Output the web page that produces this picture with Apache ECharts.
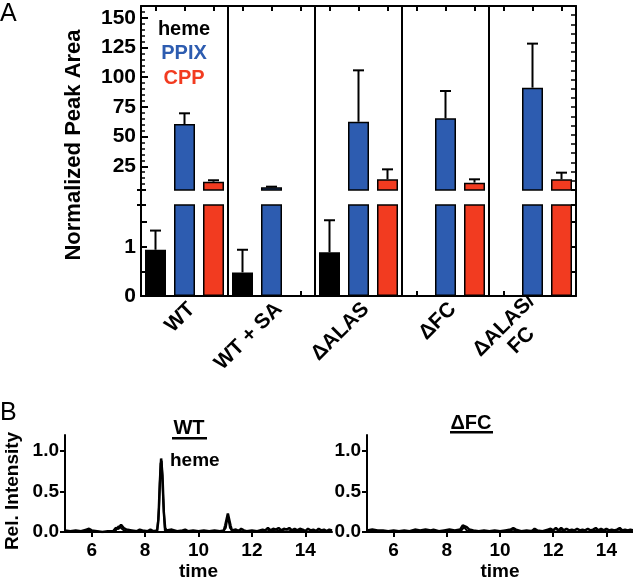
<!DOCTYPE html>
<html><head><meta charset="utf-8">
<script src="https://cdn.jsdelivr.net/npm/echarts@6/dist/echarts.min.js"></script>
<style>html,body{margin:0;padding:0;background:#fff}#c{width:633px;height:582px}</style>
</head><body><div id="c"></div>
<script>
// ---- Panel A data ----
const groups = ['WT', 'WT + SA', '\u0394ALAS', '\u0394FC', '\u0394ALAS/\nFC    '];
const seriesNames = ['heme', 'PPIX', 'CPP'];
const heme    = [0.94, 0.48, 0.89, null, null];
const hemeErr = [0.39, 0.46, 0.65, null, null];
const ppix    = [60.5, 7.3, 62.5, 65.4, 91.2];
const ppixErr = [9.1, 0.5, 43.3, 23.0, 37.1];
const cpp     = [12.0, null, 14.0, 11.2, 14.0];
const cppErr  = [1.2, null, 8.4, 2.8, 5.6];
const upperTicks = [25, 50, 75, 100, 125, 150];
const lowerTicks = [0, 1];
const lowerMinorTicks = [0, 0.5, 1, 1.5];
// ---- Panel B data ----
const timeTicks = [6, 8, 10, 12, 14];
const intensityTicks = [0, 0.5, 1];
const wtTraceA = [[5.0,0.02],[5.2,0.01],[5.4,0.02],[5.6,0.01],[5.8,0.03],[5.9,0.04],[6.0,0.02],[6.2,0.01],[6.4,0.0],[6.6,0.01],[6.8,0.01],[6.9,0.05],[7.0,0.04],[7.1,0.09],[7.2,0.05],[7.3,0.03],[7.5,0.02],[7.7,0.01],[7.8,0.03],[7.9,0.02],[8.1,0.01],[8.2,0.03],[8.3,0.01],[8.45,0.02],[8.5,0.15],[8.55,0.6],[8.6,0.91],[8.65,0.7],[8.7,0.25],[8.75,0.05],[8.8,0.02],[9.0,0.03],[9.2,0.01],[9.4,0.02],[9.5,0.03],[9.6,0.01],[9.8,0.02],[10.0,0.01],[10.2,0.02],[10.4,0.01],[10.6,0.02],[10.8,0.01],[10.95,0.02],[11.0,0.08],[11.1,0.23],[11.2,0.08],[11.25,0.02],[11.4,0.03],[11.5,0.01],[11.6,0.04],[11.7,0.02],[11.8,0.01],[12.0,0.02],[12.2,0.01],[12.4,0.03],[12.5,0.02],[12.6,0.05],[12.7,0.02],[12.8,0.04],[12.9,0.03],[13.0,0.05],[13.1,0.02],[13.2,0.04],[13.3,0.03],[13.4,0.05],[13.5,0.02],[13.6,0.04],[13.7,0.02],[13.8,0.04],[13.9,0.03],[14.0,0.01],[14.1,0.04],[14.2,0.02],[14.3,0.03],[14.4,0.01],[14.5,0.04],[14.6,0.02],[14.7,0.03],[14.8,0.01],[14.9,0.03],[15.0,0.02]];
const wtTraceB = [[5.0,0.0],[5.3,0.01],[5.6,0.0],[5.8,0.02],[6.0,0.01],[6.3,0.0],[6.6,0.0],[6.9,0.02],[7.0,0.07],[7.1,0.05],[7.2,0.02],[7.4,0.0],[7.6,0.01],[7.8,0.01],[8.0,0.0],[8.2,0.01],[8.45,0.0],[8.52,0.3],[8.58,0.85],[8.62,0.88],[8.68,0.4],[8.74,0.02],[8.9,0.0],[9.1,0.01],[9.3,0.0],[9.5,0.01],[9.7,0.0],[9.9,0.01],[10.1,0.0],[10.3,0.01],[10.5,0.0],[10.7,0.01],[10.9,0.0],[11.02,0.05],[11.1,0.2],[11.18,0.05],[11.3,0.0],[11.5,0.02],[11.7,0.0],[11.9,0.01],[12.1,0.0],[12.3,0.01],[12.5,0.0],[12.7,0.02],[12.9,0.01],[13.1,0.02],[13.3,0.0],[13.5,0.02],[13.7,0.01],[13.9,0.02],[14.1,0.0],[14.3,0.02],[14.5,0.01],[14.7,0.0],[14.9,0.02],[15.0,0.01]];
const fcTraceA = [[5.0,0.02],[5.2,0.03],[5.4,0.02],[5.6,0.02],[5.8,0.01],[6.0,0.02],[6.2,0.01],[6.4,0.02],[6.6,0.01],[6.8,0.03],[7.0,0.02],[7.2,0.03],[7.4,0.02],[7.5,0.03],[7.7,0.01],[7.9,0.02],[8.1,0.03],[8.3,0.02],[8.5,0.03],[8.6,0.08],[8.67,0.1],[8.75,0.06],[8.85,0.03],[9.0,0.02],[9.2,0.01],[9.4,0.02],[9.6,0.01],[9.8,0.02],[10.0,0.01],[10.2,0.02],[10.4,0.03],[10.5,0.05],[10.6,0.03],[10.8,0.01],[11.0,0.02],[11.2,0.01],[11.3,0.04],[11.4,0.02],[11.6,0.01],[11.8,0.03],[11.9,0.04],[12.0,0.02],[12.1,0.05],[12.2,0.02],[12.3,0.05],[12.4,0.02],[12.5,0.04],[12.6,0.02],[12.7,0.03],[12.8,0.02],[12.9,0.04],[13.0,0.02],[13.1,0.03],[13.2,0.02],[13.3,0.04],[13.4,0.02],[13.5,0.03],[13.6,0.05],[13.7,0.02],[13.8,0.04],[13.9,0.02],[14.0,0.04],[14.1,0.02],[14.2,0.03],[14.3,0.02],[14.4,0.03],[14.5,0.05],[14.6,0.02],[14.7,0.03],[14.8,0.02],[14.9,0.03],[15.0,0.02]];
const fcTraceB = [[5.0,0.0],[5.3,0.01],[5.6,0.0],[5.9,0.01],[6.2,0.0],[6.5,0.01],[6.8,0.0],[7.1,0.01],[7.4,0.0],[7.7,0.01],[8.0,0.0],[8.3,0.01],[8.55,0.02],[8.65,0.06],[8.75,0.02],[9.0,0.0],[9.3,0.01],[9.6,0.0],[9.9,0.01],[10.2,0.0],[10.5,0.03],[10.7,0.0],[11.0,0.01],[11.3,0.02],[11.6,0.0],[11.9,0.02],[12.1,0.0],[12.3,0.03],[12.5,0.0],[12.7,0.02],[12.9,0.0],[13.1,0.02],[13.3,0.0],[13.5,0.02],[13.7,0.01],[13.9,0.02],[14.1,0.0],[14.3,0.02],[14.5,0.03],[14.7,0.0],[14.9,0.01],[15.0,0.0]];

const COLORS = ['#000000', '#2d5cb0', '#f23b20'];
const FONT = '"Liberation Sans", Arial, sans-serif';

// 15 categories: 3 bars per group
const cats = [];
groups.forEach((g, gi) => seriesNames.forEach((s, si) => cats.push(gi * 3 + si)));
function place(vals, si) {
  const out = cats.map(() => '-');
  vals.forEach((v, gi) => { if (v !== null) out[gi * 3 + si] = v; });
  return out;
}
function errData(vals, errs, si) {
  const out = [];
  vals.forEach((v, gi) => { if (v !== null && errs[gi] !== null) out.push([gi * 3 + si, v, errs[gi]]); });
  return out;
}
function errRender(params, api) {
  const x = api.value(0), y = api.value(1), e = api.value(2);
  const p0 = api.coord([x, y]), p1 = api.coord([x, y + e]);
  return { type: 'group', children: [
    { type: 'line', shape: { x1: p0[0], y1: p0[1], x2: p1[0], y2: p1[1] }, style: { stroke: '#000', lineWidth: 2 } },
    { type: 'line', shape: { x1: p1[0] - 5.5, y1: p1[1], x2: p1[0] + 5.5, y2: p1[1] }, style: { stroke: '#000', lineWidth: 2 } }
  ]};
}
// frame of a broken-axis segment: side lines plus small caps at the break end
function frameRender(breakAtTop) {
  return function (params, api) {
    const cs = params.coordSys;
    const L = cs.x, R = cs.x + cs.width, T = cs.y, B = cs.y + cs.height;
    const yb = breakAtTop ? T : B;
    const st = { stroke: '#000', lineWidth: 2 };
    return { type: 'group', children: [
      { type: 'line', shape: { x1: L, y1: T, x2: L, y2: B }, style: st },
      { type: 'line', shape: { x1: R, y1: T, x2: R, y2: B }, style: st },
      { type: 'line', shape: { x1: L - 4, y1: yb, x2: L + 5, y2: yb }, style: st },
      { type: 'line', shape: { x1: R - 5, y1: yb, x2: R + 1, y2: yb }, style: st }
    ]};
  };
}
// group label anchors (slightly right of group centre, as in the figure)
const groupLabelPos = groups.map((g, gi) => gi * 3 + 1.25);
// right-frame tick positions of the upper segment
const rightTicks = [];
for (let k = 0; k <= 20; k++) rightTicks.push(5 + 7.75 * k);

const barStyle = (i) => ({ color: COLORS[i], borderColor: '#000', borderWidth: 1.5 });
const axLine = () => ({ show: true, lineStyle: { color: '#000', width: 2 } });
const tick = (vals, len, w) => ({ show: true, customValues: vals, inside: true, length: len, lineStyle: { color: '#000', width: w } });
const labelFont = () => ({ color: '#000', fontFamily: FONT, fontWeight: 'bold', fontSize: 21 });
const bLabelFont = () => ({ color: '#000', fontFamily: FONT, fontWeight: 'bold', fontSize: 19 });

const chart = echarts.init(document.getElementById('c'), null, { renderer: 'canvas' });
chart.setOption({
  animation: false,
  backgroundColor: '#fff',
  grid: [
    { left: 141, right: 57, top: 6, height: 184 },   // 0 A upper
    { left: 141, right: 57, top: 205, height: 91 },  // 1 A lower
    { left: 141, right: 57, top: 6, height: 290 },   // 2 A separators
    { left: 65, width: 267, top: 435, height: 100 }, // 3 B WT
    { left: 367, width: 266, top: 435, height: 100 },// 4 B dFC
    { left: 141, right: 57, top: 205, height: 91 }   // 5 A group labels
  ],
  xAxis: [
    { gridIndex: 0, type: 'category', data: cats, position: 'top',
      axisLine: axLine(), axisTick: { show: true, inside: true, length: 5, alignWithLabel: true, lineStyle: { color: '#000', width: 2 } },
      axisLabel: { show: false }, splitLine: { show: false } },
    { gridIndex: 1, type: 'category', data: cats, position: 'bottom',
      axisLine: axLine(), axisTick: { show: true, inside: true, length: 5, alignWithLabel: true, lineStyle: { color: '#000', width: 2 } },
      axisLabel: { show: false } },
    { gridIndex: 2, type: 'category', data: groups, boundaryGap: true,
      axisLine: { show: false }, axisTick: { show: false }, axisLabel: { show: false },
      splitLine: { show: true, lineStyle: { color: '#000', width: 2 } } },
    { gridIndex: 3, type: 'value', min: 5, max: 15, name: 'time', nameLocation: 'middle', nameGap: 30,
      nameTextStyle: bLabelFont(), axisLine: axLine(),
      axisTick: { show: true, customValues: timeTicks, length: 5, lineStyle: { color: '#000', width: 2 } },
      axisLabel: Object.assign({ customValues: timeTicks, margin: 9 }, bLabelFont()), splitLine: { show: false } },
    { gridIndex: 4, type: 'value', min: 5, max: 15, name: 'time', nameLocation: 'middle', nameGap: 30,
      nameTextStyle: bLabelFont(), axisLine: axLine(),
      axisTick: { show: true, customValues: timeTicks, length: 5, lineStyle: { color: '#000', width: 2 } },
      axisLabel: Object.assign({ customValues: timeTicks, margin: 9 }, bLabelFont()), splitLine: { show: false } },
    { gridIndex: 5, type: 'value', min: -0.5, max: 14.5, position: 'bottom',
      axisLine: { show: false }, axisTick: { show: false }, splitLine: { show: false },
      axisLabel: Object.assign({ customValues: groupLabelPos, rotate: 45, margin: 10, lineHeight: 23,
        formatter: (v) => groups[Math.round((v - 1.25) / 3)] }, labelFont()) }
  ],
  yAxis: [
    { gridIndex: 0, type: 'value', min: 5, max: 160, position: 'left',
      axisLine: axLine(), axisTick: tick(upperTicks, 7, 2),
      axisLabel: Object.assign({ customValues: upperTicks, margin: 5 }, labelFont()), splitLine: { show: false } },
    { gridIndex: 0, type: 'value', min: 5, max: 160, interval: 5, position: 'left',
      axisLine: { show: false }, axisTick: { show: true, inside: true, length: 4, lineStyle: { width: 1.5, color: '#000' } },
      axisLabel: { show: false }, splitLine: { show: false } },
    { gridIndex: 0, type: 'value', min: 5, max: 160, position: 'right',
      axisLine: axLine(), axisTick: tick(rightTicks, 5, 1.5),
      axisLabel: { show: false }, splitLine: { show: false } },
    { gridIndex: 1, type: 'value', min: 0, max: 1.85, position: 'left',
      axisLine: axLine(), axisTick: tick(lowerMinorTicks, 6, 2),
      axisLabel: Object.assign({ customValues: lowerTicks, margin: 5 }, labelFont()), splitLine: { show: false } },
    { gridIndex: 1, type: 'value', min: 0, max: 1.85, position: 'right',
      axisLine: axLine(), axisTick: tick([0.5, 1, 1.5], 6, 2),
      axisLabel: { show: false }, splitLine: { show: false } },
    { gridIndex: 2, type: 'value', show: false, min: 0, max: 1 },
    { gridIndex: 3, type: 'value', min: 0, max: 1.2, axisLine: axLine(),
      axisTick: { show: true, customValues: intensityTicks, length: 5, lineStyle: { color: '#000', width: 2 } },
      axisLabel: Object.assign({ customValues: intensityTicks, margin: 6, formatter: (v) => v.toFixed(1) }, bLabelFont()),
      splitLine: { show: false } },
    { gridIndex: 4, type: 'value', min: 0, max: 1.2, axisLine: axLine(),
      axisTick: { show: true, customValues: intensityTicks, length: 5, lineStyle: { color: '#000', width: 2 } },
      axisLabel: Object.assign({ customValues: intensityTicks, margin: 6, formatter: (v) => v.toFixed(1) }, bLabelFont()),
      splitLine: { show: false } },
    { gridIndex: 5, type: 'value', show: false, min: 0, max: 1 }
  ],
  series: [
    // lower segment bars
    { name: 'heme', type: 'bar', xAxisIndex: 1, yAxisIndex: 3, data: place(heme, 0), barWidth: 21, barGap: '-100%', itemStyle: barStyle(0), clip: true },
    { name: 'PPIX', type: 'bar', xAxisIndex: 1, yAxisIndex: 3, data: place(ppix, 1), barWidth: 21, barGap: '-100%', itemStyle: barStyle(1), clip: true },
    { name: 'CPP', type: 'bar', xAxisIndex: 1, yAxisIndex: 3, data: place(cpp, 2), barWidth: 21, barGap: '-100%', itemStyle: barStyle(2), clip: true },
    { type: 'custom', xAxisIndex: 1, yAxisIndex: 3, data: errData(heme, hemeErr, 0), renderItem: errRender, z: 1 },
    { type: 'custom', xAxisIndex: 1, yAxisIndex: 3, data: [[0, 0]], renderItem: frameRender(true), z: 3, silent: true },
    // upper segment bars
    { name: 'PPIX', type: 'bar', xAxisIndex: 0, yAxisIndex: 0, data: place(ppix, 1), barWidth: 21, barGap: '-100%', itemStyle: barStyle(1), clip: true },
    { name: 'CPP', type: 'bar', xAxisIndex: 0, yAxisIndex: 0, data: place(cpp, 2), barWidth: 21, barGap: '-100%', itemStyle: barStyle(2), clip: true },
    { type: 'custom', xAxisIndex: 0, yAxisIndex: 0, data: errData(ppix, ppixErr, 1), renderItem: errRender, z: 1 },
    { type: 'custom', xAxisIndex: 0, yAxisIndex: 0, data: errData(cpp, cppErr, 2), renderItem: errRender, z: 1 },
    { type: 'custom', xAxisIndex: 0, yAxisIndex: 0, data: [[0, 5]], renderItem: frameRender(false), z: 3, silent: true },
    // chromatograms
    { type: 'line', xAxisIndex: 3, yAxisIndex: 6, data: wtTraceA, showSymbol: false, lineStyle: { color: '#000', width: 2.5 } },
    { type: 'line', xAxisIndex: 3, yAxisIndex: 6, data: wtTraceB, showSymbol: false, lineStyle: { color: '#000', width: 2 } },
    { type: 'line', xAxisIndex: 4, yAxisIndex: 7, data: fcTraceA, showSymbol: false, lineStyle: { color: '#000', width: 2.5 } },
    { type: 'line', xAxisIndex: 4, yAxisIndex: 7, data: fcTraceB, showSymbol: false, lineStyle: { color: '#000', width: 2 } }
  ],
  graphic: [
    { type: 'text', left: 0, top: 2, style: { text: 'A', fontSize: 25, fontFamily: FONT, fill: '#000' } },
    { type: 'text', left: 0, top: 401, style: { text: 'B', fontSize: 25, fontFamily: FONT, fill: '#000' } },
    { type: 'text', x: 184, y: 29, style: { text: seriesNames[0], textAlign: 'center', textVerticalAlign: 'middle', fontSize: 20, fontWeight: 'bold', fontFamily: FONT, fill: COLORS[0] } },
    { type: 'text', x: 184, y: 53, style: { text: seriesNames[1], textAlign: 'center', textVerticalAlign: 'middle', fontSize: 20, fontWeight: 'bold', fontFamily: FONT, fill: COLORS[1] } },
    { type: 'text', x: 184, y: 78, style: { text: seriesNames[2], textAlign: 'center', textVerticalAlign: 'middle', fontSize: 20, fontWeight: 'bold', fontFamily: FONT, fill: COLORS[2] } },
    { type: 'text', x: 74, y: 145, rotation: Math.PI / 2, style: { text: 'Normalized Peak Area', textAlign: 'center', textVerticalAlign: 'middle', fontSize: 22, fontWeight: 'bold', fontFamily: FONT, fill: '#000' } },
    { type: 'text', x: 13, y: 491, rotation: Math.PI / 2, style: { text: 'Rel. Intensity', textAlign: 'center', textVerticalAlign: 'middle', fontSize: 19, fontWeight: 'bold', fontFamily: FONT, fill: '#000' } },
    { type: 'text', x: 189, y: 428, style: { text: 'WT', textAlign: 'center', textVerticalAlign: 'middle', fontSize: 20, fontWeight: 'bold', fontFamily: FONT, fill: '#000' } },
    { type: 'rect', shape: { x: 172, y: 437, width: 35, height: 2.5 }, style: { fill: '#000' } },
    { type: 'text', x: 471, y: 423, style: { text: '\u0394FC', textAlign: 'center', textVerticalAlign: 'middle', fontSize: 20, fontWeight: 'bold', fontFamily: FONT, fill: '#000' } },
    { type: 'rect', shape: { x: 450, y: 431, width: 43, height: 2.5 }, style: { fill: '#000' } },
    { type: 'text', x: 170, y: 461, style: { text: 'heme', textAlign: 'left', textVerticalAlign: 'middle', fontSize: 19, fontWeight: 'bold', fontFamily: FONT, fill: '#000' } }
  ]
});
</script></body></html>
